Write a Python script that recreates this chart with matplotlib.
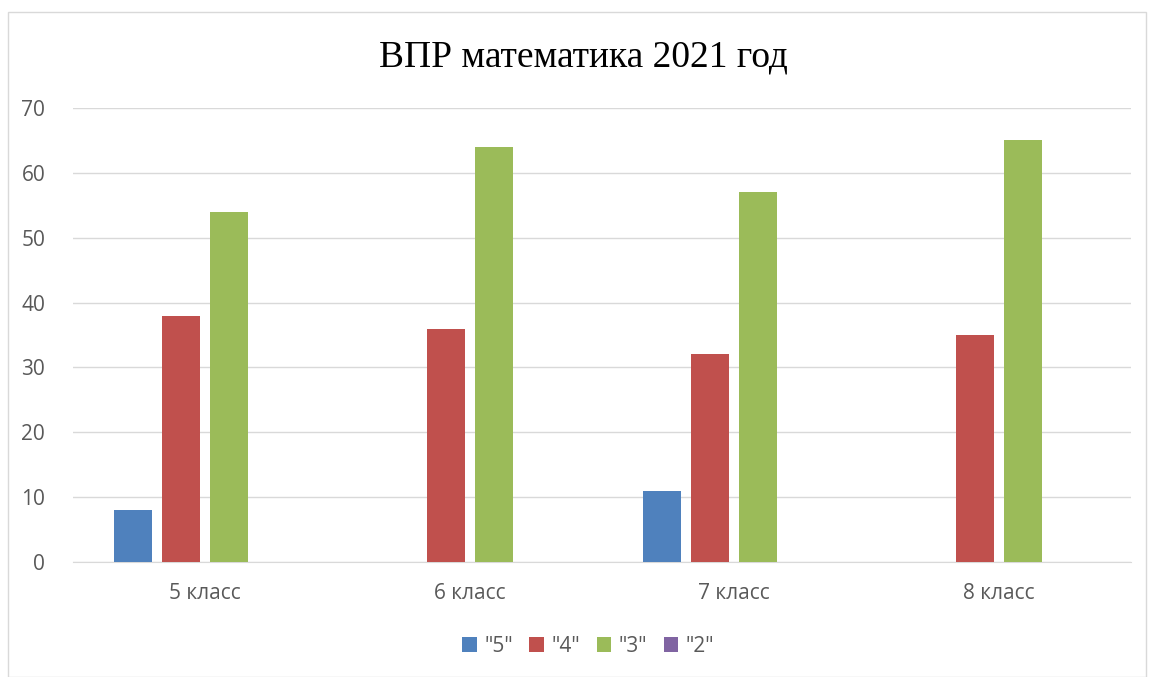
import matplotlib.pyplot as plt
from matplotlib.patches import Rectangle

categories = ['5 класс', '6 класс', '7 класс', '8 класс']
series_names = ['"5"', '"4"', '"3"', '"2"']
grade5 = [8, 0, 11, 0]
grade4 = [38, 36, 32, 35]
grade3 = [54, 64, 57, 65]
grade2 = [0, 0, 0, 0]
yticks = [0, 10, 20, 30, 40, 50, 60, 70]

colors = ['#4F81BD', '#C0504D', '#9BBB59', '#8064A2']

fig = plt.figure(figsize=(11.49, 6.77), dpi=100)
fig.patches.append(Rectangle((8 / 1149, 0), 1138 / 1149, 1 - 12 / 677, transform=fig.transFigure,
                             fill=False, edgecolor='#D9D9D9', linewidth=1))

ax = fig.add_axes([73 / 1149, 1 - 562 / 677, 1058 / 1149, 454 / 677])

bar_width = 38 / 264.5
step = 48 / 264.5
all_series = [grade5, grade4, grade3, grade2]
for i, (vals, name) in enumerate(zip(all_series, series_names)):
    xs = [c + (i - 1.5) * step for c in range(len(categories))]
    ax.bar(xs, vals, width=bar_width, color=colors[i], label=name, zorder=3)

ax.set_xlim(-0.5, len(categories) - 0.5)
ax.set_ylim(0, 70)
ax.set_yticks(yticks)
ax.set_xticks(range(len(categories)))
ax.set_xticklabels(categories)
ax.grid(axis='y', color='#D9D9D9', linewidth=1, zorder=0)
for s in ['top', 'right', 'left']:
    ax.spines[s].set_visible(False)
ax.spines['bottom'].set_color('#D9D9D9')
ax.tick_params(axis='both', length=0, labelsize=15, labelcolor='#595959', labelfontfamily='Open Sans')
ax.tick_params(axis='x', pad=15)
ax.tick_params(axis='y', pad=20)

fig.text(0.508, 1 - 57 / 677, 'ВПР математика 2021 год', ha='center', va='center',
         fontsize=27, family='Liberation Serif')

fig.legend(loc='center', bbox_to_anchor=(0.512, 1 - 646 / 677), ncol=4, frameon=False,
           prop={'family': 'Open Sans', 'size': 15}, labelcolor='#595959',
           handlelength=0.7, handleheight=0.7, handletextpad=0.35, columnspacing=0.8)

fig.savefig('out.png', dpi=100, facecolor='white')
